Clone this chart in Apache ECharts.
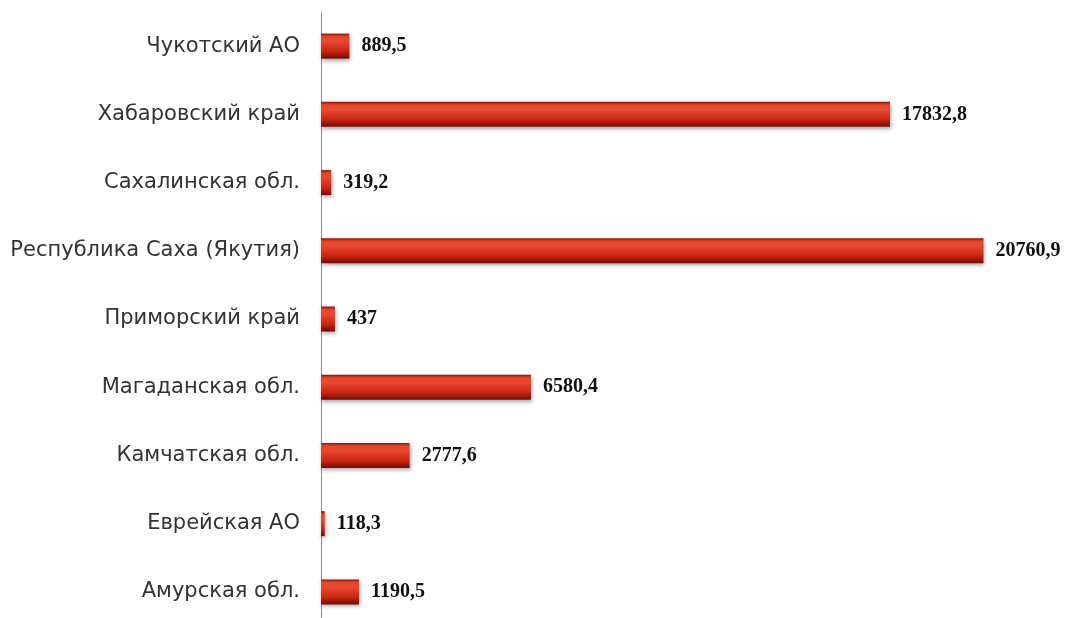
<!DOCTYPE html>
<html>
<head>
<meta charset="utf-8">
<script src="https://cdn.jsdelivr.net/npm/echarts@6/dist/echarts.min.js"></script>
<style>
  html, body { margin: 0; padding: 0; background: #ffffff; overflow: hidden; }
  #chart { width: 1087px; height: 640px; }
</style>
</head>
<body>
<div id="chart"></div>
<script>
// Regions, listed bottom to top as they appear on the category axis
const regions = [
  'Амурская обл.',
  'Еврейская АО',
  'Камчатская обл.',
  'Магаданская обл.',
  'Приморский край',
  'Республика Саха (Якутия)',
  'Сахалинская обл.',
  'Хабаровский край',
  'Чукотский АО'
];
const values = [1190.5, 118.3, 2777.6, 6580.4, 437, 20760.9, 319.2, 17832.8, 889.5];

const chart = echarts.init(document.getElementById('chart'), null, { renderer: 'canvas' });

// Red cylinder-like fill for the bars
const barFill = new echarts.graphic.LinearGradient(0, 0, 0, 1, [
  { offset: 0, color: '#8e1209' },
  { offset: 0.12, color: '#e0462c' },
  { offset: 0.3, color: '#e84a30' },
  { offset: 0.7, color: '#cc2612' },
  { offset: 1, color: '#730a05' }
]);

chart.setOption({
  animation: false,
  backgroundColor: '#ffffff',
  // the plot runs past the bottom edge of the page, so the axis line reaches it
  grid: { left: 321, width: 702, top: 12, height: 614, containLabel: false },
  xAxis: {
    type: 'value',
    min: 0,
    max: 22000,
    show: false
  },
  yAxis: {
    type: 'category',
    data: regions,
    axisLine: { show: true, lineStyle: { color: '#8c8c8c', width: 1 } },
    axisTick: { show: false },
    axisLabel: {
      margin: 21,
      color: '#333333',
      fontFamily: 'DejaVu Sans',
      fontSize: 21
    },
    splitLine: { show: false }
  },
  series: [{
    type: 'bar',
    data: values,
    barWidth: 25,
    itemStyle: {
      color: barFill,
      shadowColor: 'rgba(0,0,0,0.35)',
      shadowBlur: 4,
      shadowOffsetX: 1,
      shadowOffsetY: 2
    },
    label: {
      show: true,
      position: 'right',
      distance: 12,
      color: '#111111',
      fontFamily: 'Liberation Serif',
      fontWeight: 'bold',
      fontSize: 20,
      formatter: p => String(p.value).replace('.', ',')
    }
  }]
});
</script>
</body>
</html>
